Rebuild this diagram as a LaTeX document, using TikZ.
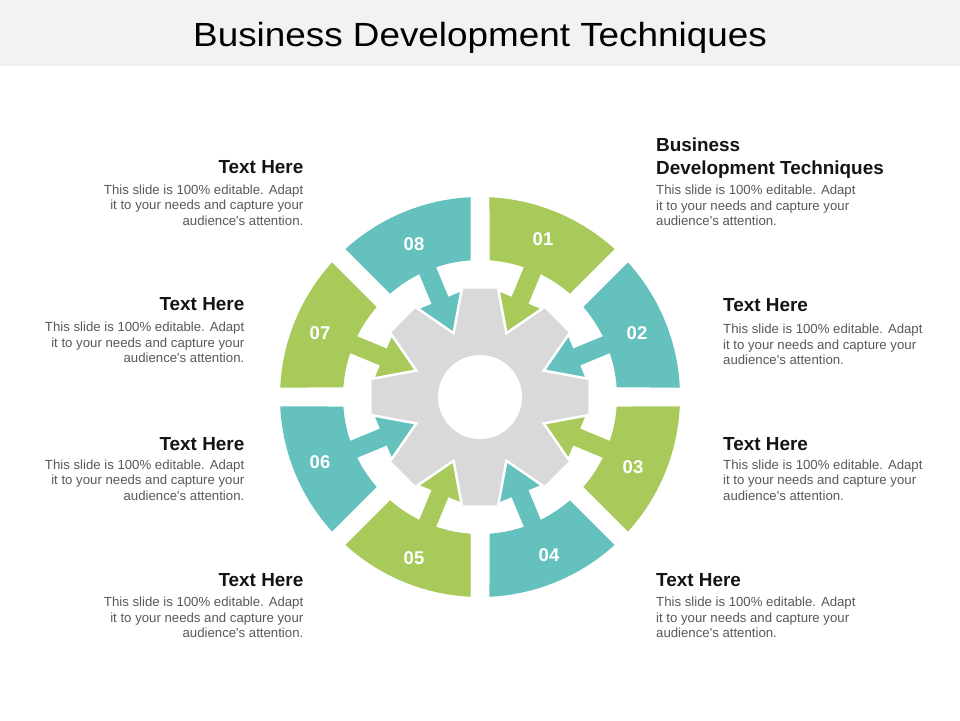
\documentclass[tikz,border=0pt]{standalone}
\usepackage{fontspec}
\setmainfont{Liberation Sans}[Ligatures=TeXOff]
\newfontfamily\titlefont{Liberation Sans}[Ligatures=TeXOff, FakeStretch=1.1]
\definecolor{bandc}{HTML}{F2F2F2}
\definecolor{segG}{HTML}{A7CA5B}
\definecolor{segT}{HTML}{64C1BE}
\definecolor{gearc}{HTML}{D9D9D9}
\definecolor{bodyc}{HTML}{595959}
\definecolor{headc}{HTML}{141414}
\newcommand{\tblock}[5]{%
  \node[headtxt, anchor=base #1] (#5h) at (#2, 720-#3) {Text Here};
  \node[bodytxt, anchor=base #1] (#5a) at (#2, 720-#4) {This slide is 100\% editable. Adapt};
  \node[bodytxt, anchor=base #1] (#5b) at (#2, 720-#4-15.5) {it to your needs and capture your};
  \node[bodytxt, anchor=base #1] (#5c) at (#2, 720-#4-31) {audience's attention.};
}
\begin{document}
\begin{tikzpicture}[x=1pt,y=1pt,
  headtxt/.style={inner sep=0pt, text=headc, font=\bfseries\fontsize{18.9}{22}\selectfont},
  bodytxt/.style={inner sep=0pt, text=bodyc, font=\fontsize{13.2}{15.5}\selectfont},
  numlab/.style={inner sep=0pt, text=white, font=\bfseries\fontsize{18.5}{22}\selectfont},
  arrowshape/.style={draw=white, line width=2.5pt, line join=miter}]
\useasboundingbox (0,0) rectangle (960,720);
\fill[white] (0,0) rectangle (960,720);
\fill[bandc] (0,654) rectangle (960,720);
\node[inner sep=0pt, anchor=base, text=black, font=\titlefont\fontsize{33.5}{40}\selectfont] (title) at (480,673.3) {Business Development Techniques};

\begin{scope}[shift={(480,323)}]
  % gear
  \fill[gearc] (-10:110) \foreach \k in {0,...,7} { -- ({\k*45-10}:110) -- ({\k*45+10}:110) -- ({\k*45+22.5}:69) } -- cycle;
  \fill[white] (0,0) circle (42);
  % arrows and segments
  \foreach \i/\col in {1/segG,2/segT,3/segG,4/segT,5/segG,6/segT,7/segG,8/segT}{
    \pgfmathsetmacro{\ab}{90-45*(\i-1)}
    \pgfmathsetmacro{\aa}{\ab-45}
    \pgfmathsetmacro{\mm}{\ab-22.5}
    \begin{scope}[rotate=\mm]
      \filldraw[arrowshape, fill=\col] (150,10.5) -- (106,10.5) -- (106,24) -- (69,0) -- (106,-24) -- (106,-10.5) -- (150,-10.5) -- cycle;
    \end{scope}
    \fill[\col] ({\aa+2.72}:200) arc[start angle={\aa+2.72}, end angle={\ab-2.72}, radius=200]
       -- ({\ab-3.98}:137) arc[start angle={\ab-3.98}, end angle={\aa+3.98}, radius=137] -- cycle;
  }
\end{scope}

% segment numbers
\foreach \lab/\px/\py in {01/543/239, 02/637/333, 03/633/467, 04/549/555, 05/414/558, 06/320/462, 07/320/333, 08/414/244}{
  \node[numlab] (n\lab) at (\px, 720-\py) {\lab};
}

% right top block
\node[headtxt, anchor=base west] (rt1) at (656,720-151.7) {Business};
\node[headtxt, anchor=base west] (rt2) at (656,720-174.3) {Development Techniques};
\node[bodytxt, anchor=base west] (rta) at (656,720-195) {This slide is 100\% editable. Adapt};
\node[bodytxt, anchor=base west] (rtb) at (656,720-210.5) {it to your needs and capture your};
\node[bodytxt, anchor=base west] (rtc) at (656,720-226) {audience's attention.};

\tblock{west}{723}{311.7}{334}{rb}
\tblock{west}{723}{451}{469.3}{rc}
\tblock{west}{656}{586.7}{606.7}{rd}
\tblock{east}{303.5}{174}{194.3}{la}
\tblock{east}{244.5}{310.7}{331.7}{lb}
\tblock{east}{244.5}{451}{469.3}{lc}
\tblock{east}{303.5}{586.7}{606.7}{ld}
\end{tikzpicture}
\end{document}
